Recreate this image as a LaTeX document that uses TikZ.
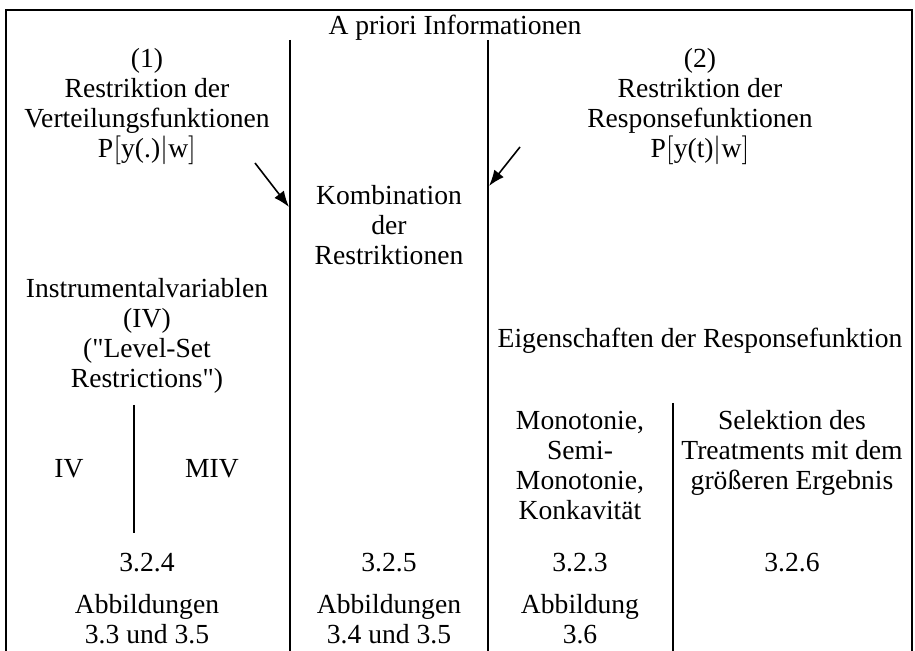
\documentclass[tikz,border=0pt]{standalone}
\usepackage{fontspec}
\setmainfont{Liberation Serif}[Ligatures=TeXOff]
\usetikzlibrary{arrows.meta}
\newcommand\tabfont{\fontsize{13.8}{15}\selectfont}
\newcommand\prob[1]{P$\bigl[$#1$\bigr|$w$\bigr]$}

\begin{document}
\begin{tikzpicture}
  [x=0.5pt,y=-0.5pt,
    every node/.style={align=center,inner sep=0pt,anchor=base,font=\tabfont},
    frame/.style={line width=0.8pt},
    subrule/.style={line width=0.6pt},
    hint/.style={line width=0.8pt,-{Latex[length=8pt,width=6pt]}},
  ]
  \useasboundingbox (0,0) rectangle (915,651);
  % outer frame, open at the bottom
  \coordinate (tl) at (6,10);
  \coordinate (tr) at (912,10);
  \coordinate (bl) at (6,651);
  \coordinate (br) at (912,651);
  \draw[frame] (bl) -- (tl) -- (tr) -- (br);
  % column rules
  \coordinate (col1top) at (290,40);
  \coordinate (col1bot) at (290,651);
  \coordinate (col2top) at (488,40);
  \coordinate (col2bot) at (488,651);
  \draw[frame] (col1top) -- (col1bot);
  \draw[frame] (col2top) -- (col2bot);
  \coordinate (ivtop) at (134,405);
  \coordinate (ivbot) at (134,533);
  \coordinate (eigtop) at (673,403);
  \coordinate (eigbot) at (673,651);
  \draw[subrule] (ivtop) -- (ivbot);
  \draw[subrule] (eigtop) -- (eigbot);

  % base = last line of each block
  \node (apriori) at (455,35) {A priori Informationen};
  \node (verteil) at (147,158) {(1)\\Restriktion der\\Verteilungsfunktionen\\\prob{y(.)}};
  \node (response) at (700,158) {(2)\\Restriktion der\\Responsefunktionen\\\prob{y(t)}};
  \node (komb) at (389,265) {Kombination\\der\\Restriktionen};
  \node (instr) at (147,388) {Instrumentalvariablen\\(IV)\\("Level-Set\\Restrictions")};
  \node (eigen) at (700,348) {Eigenschaften der Responsefunktion};
  \node (iv) at (69,478) {IV};
  \node (miv) at (212,478) {MIV};
  \node (mono) at (580,520) {Monotonie,\\Semi-\\Monotonie,\\Konkavität};
  \node (selek) at (792,490) {Selektion des\\Treatments mit dem\\größeren Ergebnis};

  \node (s324) at (147,572) {3.2.4};
  \node (s325) at (389,572) {3.2.5};
  \node (s323) at (580,572) {3.2.3};
  \node (s326) at (792,572) {3.2.6};
  \node (abb1) at (147,643) {Abbildungen\\3.3 und 3.5};
  \node (abb2) at (389,643) {Abbildungen\\3.4 und 3.5};
  \node (abb3) at (580,643) {Abbildung\\3.6};

  % arrows onto the middle column
  \coordinate (from1) at (255,163);
  \coordinate (to1) at (289,207);
  \coordinate (from2) at (520,147);
  \coordinate (to2) at (489,186);
  \draw[hint] (from1) -- (to1);
  \draw[hint] (from2) -- (to2);
\end{tikzpicture}
\end{document}
